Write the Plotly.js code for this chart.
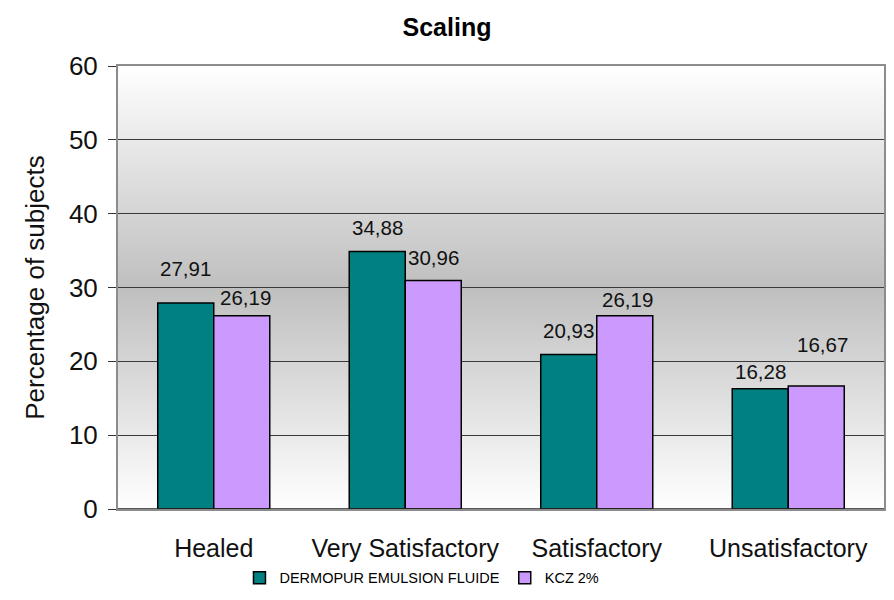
<!DOCTYPE html>
<html>
<head>
<meta charset="utf-8">
<script src="https://cdn.plot.ly/plotly-3.0.1.min.js"></script>
<style>html,body{margin:0;padding:0;background:#fff;}#chart{width:894px;height:600px;}</style>
</head>
<body>
<div id="chart"></div>
<script>
const categories = ["Healed", "Very Satisfactory", "Satisfactory", "Unsatisfactory"];
const seriesNames = ["DERMOPUR EMULSION FLUIDE", "KCZ 2%"];
const dermopurValues = [27.91, 34.88, 20.93, 16.28];
const kczValues = [26.19, 30.96, 26.19, 16.67];
const yTickValues = [0, 10, 20, 30, 40, 50, 60];

// label placement offsets (pixels), kept apart from the data
const dermoLabelYShift = [34, 24, 24, 17];
const kczLabelYShift = [18, 23, 16, 41];
const dermoLabelXShift = [-28, -28, -28, -28];
const kczLabelXShift = [32, 28, 31, 34];

const FONT = '"Liberation Sans", Arial, sans-serif';
const fmt = v => v.toFixed(2).replace('.', ',');

const traces = [
  {type: 'bar', name: seriesNames[0], x: categories, y: dermopurValues,
   marker: {color: '#008080', line: {color: '#000000', width: 1.5}}, hoverinfo: 'none'},
  {type: 'bar', name: seriesNames[1], x: categories, y: kczValues,
   marker: {color: '#CC99FF', line: {color: '#000000', width: 1.5}}, hoverinfo: 'none'}
];

const annotations = [];
categories.forEach((c, i) => {
  annotations.push({x: c, y: dermopurValues[i], xref: 'x', yref: 'y', text: fmt(dermopurValues[i]),
    showarrow: false, xanchor: 'center', yanchor: 'middle', xshift: dermoLabelXShift[i], yshift: dermoLabelYShift[i],
    font: {family: FONT, size: 20.5, color: '#111'}});
  annotations.push({x: c, y: kczValues[i], xref: 'x', yref: 'y', text: fmt(kczValues[i]),
    showarrow: false, xanchor: 'center', yanchor: 'middle', xshift: kczLabelXShift[i], yshift: kczLabelYShift[i],
    font: {family: FONT, size: 20.5, color: '#111'}});
});

const gradSvg = '<svg xmlns="http://www.w3.org/2000/svg" width="100" height="100" preserveAspectRatio="none">' +
  '<defs><linearGradient id="g" x1="0" y1="0" x2="0" y2="1">' +
  '<stop offset="0" stop-color="#ffffff"/><stop offset="0.5" stop-color="#bfbfbf"/><stop offset="1" stop-color="#ffffff"/>' +
  '</linearGradient></defs><rect width="100" height="100" fill="url(#g)"/></svg>';
const gradUri = 'data:image/svg+xml;base64,' + btoa(gradSvg);

const layout = {
  width: 894, height: 600,
  margin: {l: 118, r: 10, t: 66, b: 91},
  paper_bgcolor: '#ffffff',
  plot_bgcolor: 'rgba(0,0,0,0)',
  font: {family: FONT, color: '#111'},
  title: {text: '<b>Scaling</b>', x: 0.5, xanchor: 'center', y: 0.955, yanchor: 'middle',
          font: {family: FONT, size: 25, color: '#000'}, automargin: false},
  barmode: 'group', bargap: 0.415, bargroupgap: 0,
  showlegend: true,
  legend: {orientation: 'h', xref: 'container', x: 0.472, xanchor: 'center', yref: 'container', y: 0.037, yanchor: 'middle',
           font: {family: FONT, size: 14.5, color: '#000'}, itemwidth: 30, traceorder: 'normal', tracegroupgap: 0},
  xaxis: {type: 'category', showline: true, linecolor: '#8c8c8c', linewidth: 2, mirror: true, automargin: false,
          ticks: '', showgrid: false, tickfont: {family: FONT, size: 25, color: '#111'}, ticklabelstandoff: 16},
  yaxis: {range: [0, 60], tickvals: yTickValues, ticks: 'outside', ticklen: 8, tickcolor: '#333', tickwidth: 1,
          showline: true, linecolor: '#8c8c8c', linewidth: 2, mirror: true, automargin: false,
          showgrid: true, gridcolor: '#3a3a3a', gridwidth: 1, zeroline: false, ticklabelstandoff: 5,
          tickfont: {family: FONT, size: 26, color: '#111'},
          title: {text: 'Percentage of subjects', font: {family: FONT, size: 26, color: '#111'}, standoff: 17}},
  images: [{source: gradUri, xref: 'paper', yref: 'paper', x: 0, y: 1, sizex: 1, sizey: 1,
            sizing: 'stretch', xanchor: 'left', yanchor: 'top', layer: 'below'}],
  shapes: [{type: 'line', xref: 'paper', yref: 'y', x0: 0, x1: 1, y0: 0, y1: 0, line: {color: '#222', width: 1.5}}],
  annotations: annotations
};

Plotly.newPlot('chart', traces, layout, {displayModeBar: false, staticPlot: true});
</script>
</body>
</html>
